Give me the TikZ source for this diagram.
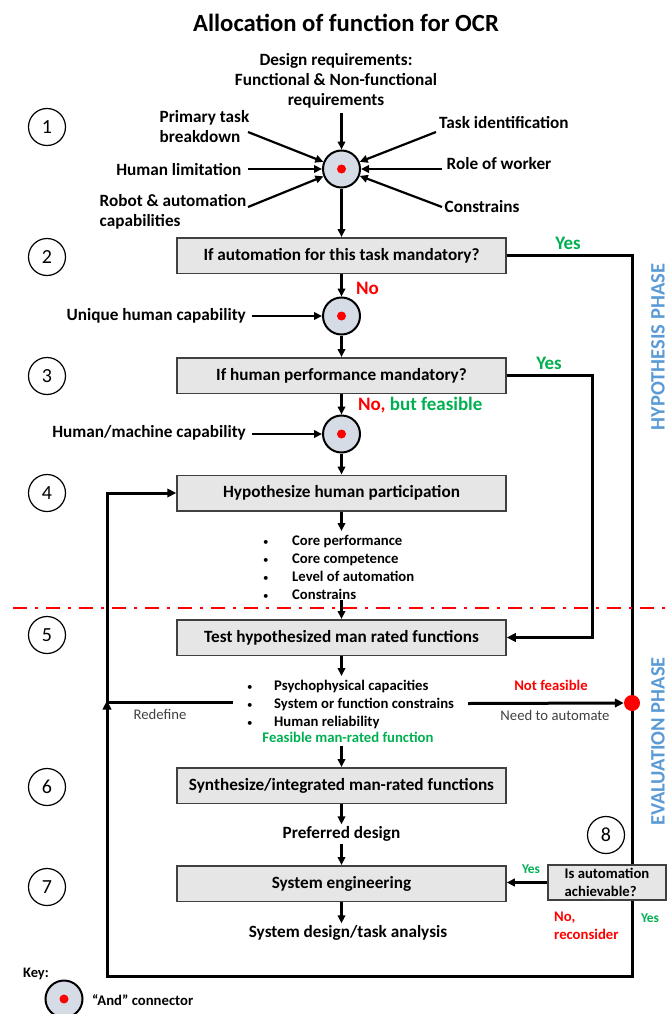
\documentclass[tikz,border=0pt]{standalone}
\usepackage{fontspec}
\setmainfont{Carlito}
\usetikzlibrary{arrows.meta,backgrounds}

\definecolor{boxfill}{HTML}{E7E6E6}
\definecolor{boxline}{HTML}{404040}
\definecolor{andfill}{HTML}{D6DCE5}
\definecolor{okgreen}{HTML}{00B050}
\definecolor{phaseblue}{HTML}{5B9BD5}
\definecolor{alertred}{HTML}{FF0000}
\definecolor{notegray}{HTML}{404040}

% small list bullet
\newcommand{\listdot}{{\mdseries\fontsize{11}{11}\selectfont\textbullet}}

\tikzset{
  lbl/.style={font=\bfseries\fontsize{17.2}{20}\selectfont, inner sep=1pt},
  sml/.style={font=\bfseries\fontsize{14.7}{18}\selectfont, inner sep=1pt},
  note/.style={font=\fontsize{14.7}{18}\selectfont, inner sep=1pt, text=notegray},
  answer/.style={font=\bfseries\fontsize{19}{22}\selectfont, inner sep=1pt},
  stepbox/.style={rectangle, draw=boxline, fill=boxfill, line width=1.5pt,
    minimum width=329pt, minimum height=35.5pt, inner sep=2pt, lbl},
  andconn/.style={circle, draw=black, line width=2pt, fill=andfill,
    minimum size=37pt, inner sep=0pt,
    path picture={\fill[alertred] (path picture bounding box.center) circle (4.5pt);}},
  stagenum/.style={circle, draw=black, line width=1.2pt, minimum size=37pt,
    inner sep=0pt, font=\fontsize{20}{20}\selectfont},
  arr/.style={draw=black, line width=2.2pt, -{Triangle[length=8pt,width=7.5pt]}},
  loopline/.style={draw=black, line width=3pt},
  looparr/.style={loopline, -{Triangle[length=9pt,width=8.5pt]}},
  phase/.style={font=\bfseries\fontsize{20.5}{22}\selectfont, text=phaseblue,
    rotate=90, inner sep=0pt},
}

\begin{document}
\begin{tikzpicture}[x=1pt,y=-1pt]
\useasboundingbox (0,0) rectangle (670,1014);

% title
\node[font=\bfseries\fontsize{24.7}{28}\selectfont] (title) at (346,23) {Allocation of function for OCR};

% stage numbers
\node[stagenum] (n1) at (47,127) {1};
\node[stagenum] (n2) at (47,257) {2};
\node[stagenum] (n3) at (47,376) {3};
\node[stagenum] (n4) at (47,493) {4};
\node[stagenum] (n5) at (47,635) {5};
\node[stagenum] (n6) at (47,787) {6};
\node[stagenum] (n7) at (47,887) {7};
\node[stagenum] (n8) at (606,835) {8};

% stage 1: inputs merging into the first "and" connector
\node[andconn] (and1) at (341.5,169) {};
\node[lbl, align=center] (dreq) at (336,81) {Design requirements:\\Functional \& Non-functional\\requirements};
\node[lbl, align=left, anchor=west] (ptb) at (158.5,127) {Primary task\\breakdown};
\node[lbl, anchor=west] (tid) at (438,123) {Task identification};
\node[lbl, anchor=east] (hlim) at (242.5,170) {Human limitation};
\node[lbl, anchor=west] (row) at (445.5,164) {Role of worker};
\node[lbl, align=left, anchor=west] (rac) at (98.5,212) {Robot \& automation\\capabilities};
\node[lbl, anchor=west] (cons) at (443.5,207) {Constrains};

\coordinate (s-dreq) at (341.5,113);
\coordinate (s-ptb) at (248,132);
\coordinate (s-tid) at (436,132);
\coordinate (s-hlim) at (248,169);
\coordinate (s-row) at (442,169);
\coordinate (s-rac) at (248,207);
\coordinate (s-cons) at (442,207);
\foreach \s in {dreq,ptb,tid,hlim,row,rac,cons}
  \draw[arr] (s-\s) -- (and1);

% stage 2
\node[stepbox] (box2) at (341.5,255.5) {If automation for this task mandatory?};
\node[answer, text=okgreen] (yes1) at (568,243) {Yes};
\node[answer, text=alertred, anchor=west] (no1) at (355,288) {No};
\node[andconn] (and2) at (341.5,316) {};
\node[lbl, anchor=east] (uhc) at (247,316) {Unique human capability};
\coordinate (s-uhc) at (252,316);
\draw[arr] (and1) -- (box2);
\draw[arr] (box2) -- (and2);
\draw[arr] (s-uhc) -- (and2);

% stage 3
\node[stepbox] (box3) at (341.5,375.5) {If human performance mandatory?};
\node[answer, text=okgreen] (yes2) at (549,363) {Yes};
\node[answer, anchor=west] (nbf) at (357,405) {\textcolor{alertred}{No,} \textcolor{okgreen}{but feasible}};
\node[andconn] (and3) at (341.5,434) {};
\node[lbl, anchor=east] (hmc) at (247,433) {Human/machine capability};
\coordinate (s-hmc) at (252,434);
\draw[arr] (and2) -- (box3);
\draw[arr] (box3) -- (and3);
\draw[arr] (s-hmc) -- (and3);

% stage 4
\node[stepbox] (box4) at (341.5,493) {Hypothesize human participation};
\node[sml, anchor=north west, inner sep=0pt] (list1) at (263,532.5)
  {\begin{tabular}{@{}p{29pt}@{}l@{}}
   \listdot & Core performance\\
   \listdot & Core competence\\
   \listdot & Level of automation\\
   \listdot & Constrains
   \end{tabular}};
\coordinate (l1top) at (341.5,531);
\coordinate (l1bot) at (341.5,600);
\draw[arr] (and3) -- (box4);
\draw[arr] (box4) -- (l1top);

% boundary between the two phases
\draw[alertred, line width=2.5pt, dash pattern=on 14pt off 8pt on 3pt off 8pt] (13,608) -- (670,608);

% stage 5
\node[stepbox] (box5) at (341.5,637.5) {Test hypothesized man rated functions};
\node[sml, anchor=north west, inner sep=0pt] (list2) at (247,677.5)
  {\begin{tabular}{@{}p{27pt}@{}l@{}}
   \listdot & Psychophysical capacities\\
   \listdot & System or function constrains\\
   \listdot & Human reliability
   \end{tabular}};
\node[sml, text=okgreen] (fmr) at (348,737) {Feasible man-rated function};
\node[sml, text=alertred] (nfeas) at (551,685) {Not feasible};
\node[note] (n2a) at (555,715) {Need to automate};
\node[note] (redef) at (160,714) {Redefine};
\node[circle, fill=alertred, minimum size=16pt, inner sep=0pt] (rdot) at (632,703) {};
\coordinate (l2top) at (341.5,676);
\coordinate (l2bot) at (341.5,746);
\draw[arr] (l1bot) -- (box5);
\draw[arr] (box5) -- (l2top);

% stage 6
\node[stepbox] (box6) at (341.5,785.5) {Synthesize/integrated man-rated functions};
\node[lbl, inner sep=2pt] (pref) at (341.5,834) {Preferred design};
\draw[arr] (l2bot) -- (box6);
\draw[arr] (box6) -- (pref);

% stage 7
\node[stepbox] (box7) at (341.5,883.5) {System engineering};
\node[lbl, inner sep=2pt] (sysd) at (348,933) {System design/task analysis};
\draw[arr] (pref) -- (box7);
\draw[arr] (box7.south) -- (box7.south |- sysd.north);

% stage 8
\node[rectangle, draw=boxline, fill=boxfill, line width=1.5pt, minimum width=118pt,
  minimum height=35pt, inner sep=1pt, sml, align=left] (box8) at (607,882.5)
  {Is automation\\achievable?};
\node[font=\bfseries\fontsize{13.4}{16}\selectfont, text=okgreen, inner sep=1pt] (yes3) at (531,869) {Yes};
\node[sml, text=alertred, align=left, anchor=west] (norc) at (553,926) {No,\\reconsider};
\node[font=\bfseries\fontsize{13.4}{16}\selectfont, text=okgreen, inner sep=1pt] (yes4) at (650,918) {Yes};
\draw[arr] (box8.west) -- (box8.west -| box7.east);

% loops and feedback paths, kept beneath boxes and the red junction
\coordinate (yesdrop) at (592,500);
\coordinate (nfstart) at (468,703.5);
\coordinate (fbleft) at (107,976);
\coordinate (fbjoin) at (107,702.5);
\coordinate (redefstart) at (233,702.5);
\begin{pgfonlayer}{background}
  \draw[loopline] (box2.east) -| (rdot.center);
  \draw[looparr] (box3.east) -| (yesdrop) |- (box5.east);
  \draw[looparr] (nfstart) -- (rdot.west);
  \draw[looparr] (rdot.center) |- (fbleft) -- ([yshift=2pt]fbjoin);
  \draw[looparr] (redefstart) -- (fbjoin) |- (box4.west);
\end{pgfonlayer}

% phase labels
\node[phase] (hyp) at (658,347) {HYPOTHESIS PHASE};
\node[phase] (eval) at (658,741.5) {EVALUATION PHASE};

% key
\node[font=\bfseries\fontsize{14.5}{16}\selectfont, inner sep=0pt] (key) at (36,974) {Key:};
\node[andconn] (keyc) at (64,999) {};
\node[sml, anchor=west] (keyt) at (91,1000.5) {“And” connector};
\end{tikzpicture}
\end{document}
